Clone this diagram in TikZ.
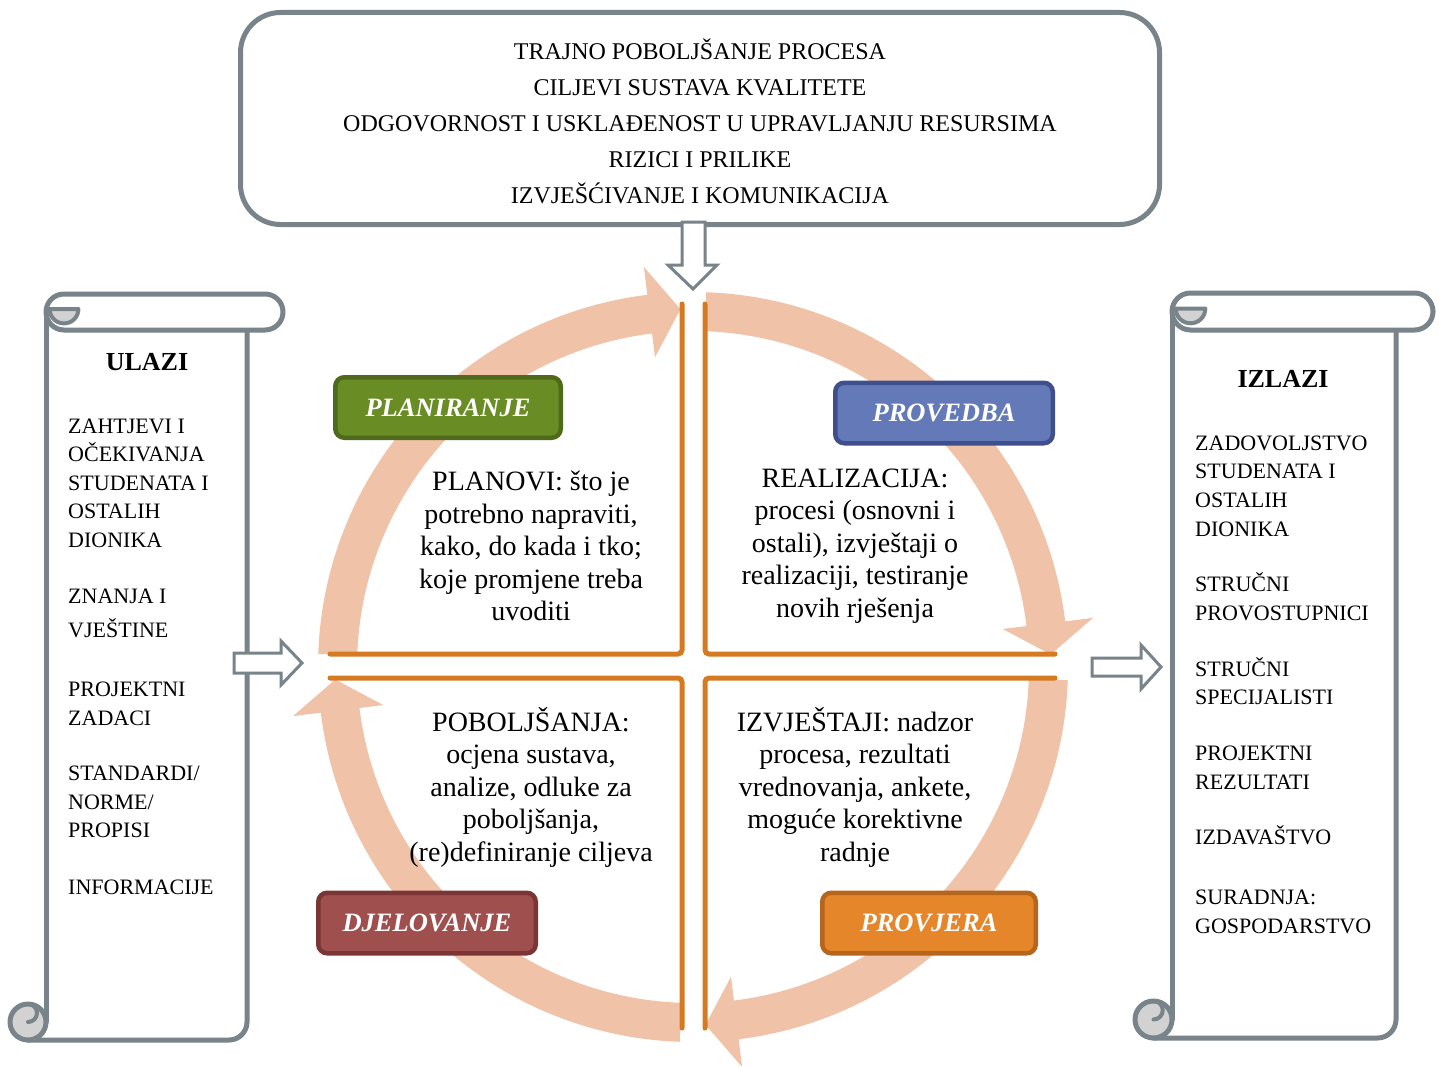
\documentclass[tikz,border=0pt]{standalone}
\usepackage{fontspec}
\setmainfont{Liberation Serif}
\usetikzlibrary{calc}
\definecolor{sgray}{HTML}{78838A}
\definecolor{curlgray}{HTML}{D2D2D2}
\definecolor{salmon}{HTML}{F0C3A9}
\definecolor{qorange}{HTML}{D67A22}
\definecolor{pgreen}{HTML}{6A8C24}
\definecolor{pgreenb}{HTML}{4E6A1A}
\definecolor{pblue}{HTML}{6479B8}
\definecolor{pblueb}{HTML}{3F4F8C}
\definecolor{pred}{HTML}{9E4F4E}
\definecolor{predb}{HTML}{7A3534}
\definecolor{porange}{HTML}{E5862A}
\definecolor{porangeb}{HTML}{B5651C}
\newcommand{\drawscroll}[5]{%
  \pgfmathsetmacro\scL{#1}\pgfmathsetmacro\scR{#2}%
  \pgfmathsetmacro\scT{#3}\pgfmathsetmacro\scB{#4}%
  \pgfmathsetmacro\scC{#5}\pgfmathsetmacro\scH{#5/2}%
  \pgfmathsetmacro\scBX{\scL+\scC}\pgfmathsetmacro\scRX{\scR-\scC}%
  \fill[white] (\scBX,{\scT+\scH}) rectangle (\scRX,\scB);
  \draw[scrollline] (\scBX,{\scT+\scH}) -- (\scBX,{\scB-\scH});
  \draw[scrollline] ({\scL+\scH},\scB) -- ({\scRX-\scH},\scB)
     arc[start angle=90,end angle=0,radius=\scH] -- (\scRX,{\scT+\scC});
  \draw[scrollline,fill=white] (\scBX,{\scT+\scH})
     arc[start angle=180,end angle=270,radius=\scH] -- ({\scR-\scH},\scT)
     arc[start angle=270,end angle=450,radius=\scH] -- ({\scBX+\scH},{\scT+\scC})
     arc[start angle=90,end angle=180,radius=\scH];
  \filldraw[scrollline,fill=curlgray,line width=4pt] ({\scBX+\scH-0.8*\scH},{\scT+\scH-3})
     arc[start angle=180,end angle=0,radius={0.8*\scH}] -- cycle;
  \filldraw[scrollline,fill=curlgray] ({\scL+\scH},{\scB-\scH}) circle[radius=\scH];
  \draw[scrollline,line width=4pt] ({\scL+\scH},{\scB-\scH})
     arc[start angle=90,end angle=-90,radius={\scH/2}];
}
\begin{document}
\begin{tikzpicture}[x=1pt,y=-1pt,
  scrollline/.style={draw=sgray,line width=5pt,line cap=round,line join=round},
  blockarrow/.style={draw=sgray,fill=white,line width=3pt,line join=miter},
  quadline/.style={draw=qorange,line width=5pt,rounded corners=4pt,line cap=round},
  phase/.style={rounded corners=9pt,line width=4.5pt,minimum height=60.5pt,text=white,
     font=\fontsize{26.5}{30}\selectfont\bfseries\itshape},
  quadtext/.style={align=center,font=\fontsize{28}{32.5}\selectfont,inner sep=0pt},
  listtext/.style={anchor=base west,font=\fontsize{22}{28}\selectfont,inner sep=0pt},
  titletext/.style={font=\fontsize{26}{30}\selectfont\bfseries,inner sep=0pt}]
\useasboundingbox (0,0) rectangle (1439,1065);

% top box
\node[draw=sgray,line width=5pt,rounded corners=40pt,minimum width=919pt,minimum height=212pt,fill=white] (topbox) at (700,118.5) {};
\node[align=center,font=\fontsize{24}{36}\selectfont,inner sep=0pt] (toptext) at (700,121)
  {TRAJNO POBOLJŠANJE PROCESA\\CILJEVI SUSTAVA KVALITETE\\ODGOVORNOST I USKLAĐENOST U UPRAVLJANJU RESURSIMA\\RIZICI I PRILIKE\\IZVJEŠĆIVANJE I KOMUNIKACIJA};
\draw[blockarrow] (682,222) -- (705,222) -- (705,265) -- (717,265) -- (693,289) -- (668,265) -- (682,265) -- cycle;

% scrolls
\drawscroll{10}{283}{294}{1040}{36}
\drawscroll{1135}{1433}{293}{1038}{37}
\draw[blockarrow] (234,653) -- (281,653) -- (281,641) -- (302,663) -- (281,685) -- (281,673) -- (234,673) -- cycle;
\draw[blockarrow] (1092,658) -- (1141,658) -- (1141,645) -- (1161,667) -- (1141,689) -- (1141,676) -- (1092,676) -- cycle;

% cycle arrows
\coordinate (C) at (693,667);
\foreach \ta/\tb/\tc in {-178/-97/-92, -88/-7/-2, 2/83/88, 92/173/178}{
  \fill[salmon] ($(C)+(\ta:375)$) arc[start angle=\ta,end angle=\tb,radius=375]
    -- ($(C)+(\tb:403)$) -- ($(C)+(\tc:358)$) -- ($(C)+(\tb:312)$) -- ($(C)+(\tb:336)$)
    arc[start angle=\tb,end angle=\ta,radius=336] -- cycle;
}

% quadrant borders
\draw[quadline] (330,654) -- (682,654) -- (682,304);
\draw[quadline] (705,304) -- (705,654) -- (1055,654);
\draw[quadline] (330,678) -- (682,678) -- (682,1028);
\draw[quadline] (1055,678) -- (705,678) -- (705,1028);

% quadrant texts
\node[quadtext] (qtl) at (531,546) {PLANOVI: što je\\potrebno napraviti,\\kako, do kada i tko;\\koje promjene treba\\uvoditi};
\node[quadtext] (qtr) at (855,546) {REALIZACIJA:\\procesi (osnovni i\\ostali), izvještaji o\\realizaciji, testiranje\\novih rješenja};
\node[quadtext] (qbl) at (531,787) {POBOLJŠANJA:\\ocjena sustava,\\analize, odluke za\\poboljšanja,\\(re)definiranje ciljeva};
\node[quadtext] (qbr) at (855,787) {IZVJEŠTAJI: nadzor\\procesa, rezultati\\vrednovanja, ankete,\\moguće korektivne\\radnje};

% phase labels
\node[phase,fill=pgreen,draw=pgreenb,minimum width=225.5pt] (plan) at (448,407.5) {PLANIRANJE};
\node[phase,fill=pblue,draw=pblueb,minimum width=217.5pt] (prov) at (944,413) {PROVEDBA};
\node[phase,fill=pred,draw=predb,minimum width=217.5pt] (djel) at (427,923) {DJELOVANJE};
\node[phase,fill=porange,draw=porangeb,minimum width=213.5pt] (provj) at (929,923) {PROVJERA};

% scroll texts
\node[titletext] (ulazi) at (147,362) {ULAZI};
\foreach \yy/\txt [count=\i] in {426/{ZAHTJEVI I}, 454/{OČEKIVANJA}, 483/{STUDENATA I}, 511/{OSTALIH}, 540/{DIONIKA}, 596/{ZNANJA I}, 630/{VJEŠTINE}, 689/{PROJEKTNI}, 718/{ZADACI}, 773/{STANDARDI/}, 802/{NORME/}, 830/{PROPISI}, 887/{INFORMACIJE}}
  \node[listtext] (in\i) at (68,\yy+7.3) {\txt};
\node[titletext] (izlazi) at (1283,379) {IZLAZI};
\foreach \yy/\txt [count=\i] in {443/{ZADOVOLJSTVO}, 471/{STUDENATA I}, 500/{OSTALIH}, 529/{DIONIKA}, 584/{STRUČNI}, 613/{PROVOSTUPNICI}, 669/{STRUČNI}, 697/{SPECIJALISTI}, 753/{PROJEKTNI}, 782/{REZULTATI}, 837/{IZDAVAŠTVO}, 897/{SURADNJA:}, 926/{GOSPODARSTVO}}
  \node[listtext] (out\i) at (1195,\yy+7.3) {\txt};
\end{tikzpicture}
\end{document}
